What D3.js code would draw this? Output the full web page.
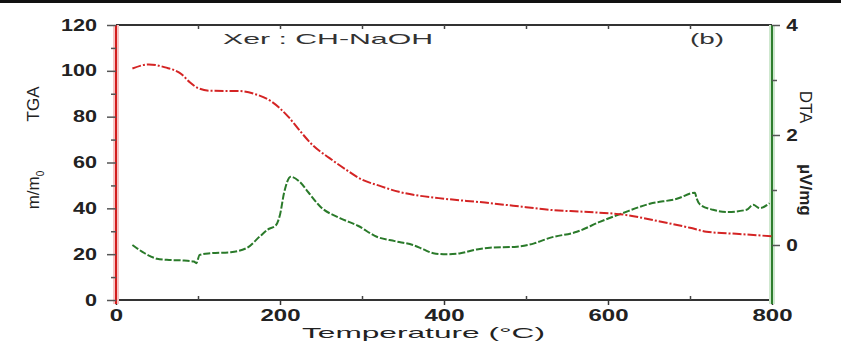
<!DOCTYPE html>
<html>
<head>
<meta charset="utf-8">
<script src="https://cdn.jsdelivr.net/npm/d3@7"></script>
<style>
  body { margin: 0; background: #fff; }
  svg { display: block; font-family: "Liberation Sans", Arial, sans-serif; }
</style>
</head>
<body>
<div id="container"></div>
<script>
/* DATA */
const tgaTemp = [20, 40, 60, 80, 90, 100, 115, 150, 170, 190, 210, 225, 240, 260, 280, 300, 320, 345, 370, 400, 450, 500, 530, 570, 620, 660, 700, 720, 760, 800]
const tgaMass = [101, 102.8, 101.5, 98.5, 95, 92.5, 91.3, 91.2, 89.8, 86.5, 80, 73.5, 67.5, 62, 57, 52.5, 50, 47.2, 45.5, 44.2, 42.5, 40.5, 39.3, 38.5, 37.2, 34.5, 31.5, 29.8, 28.8, 27.8]

const dtaTemp = [20, 35, 50, 62, 80, 95, 98, 102, 115, 140, 160, 175, 185, 195, 200, 205, 213, 224, 235, 249, 273, 295, 318, 340, 362, 375, 387, 403, 420, 440, 456, 489, 510, 529, 562, 590, 618, 651, 684, 706, 708, 712, 728, 745, 769, 777, 785, 797]
const dtaSignal = [0.0, -0.15, -0.25, -0.27, -0.28, -0.3, -0.33, -0.18, -0.15, -0.13, -0.05, 0.15, 0.28, 0.36, 0.55, 0.95, 1.24, 1.15, 0.95, 0.7, 0.49, 0.35, 0.15, 0.07, 0.0, -0.08, -0.15, -0.17, -0.15, -0.08, -0.05, -0.03, 0.03, 0.13, 0.24, 0.42, 0.58, 0.75, 0.84, 0.95, 0.85, 0.74, 0.64, 0.6, 0.64, 0.73, 0.67, 0.76]

const xTicks = [0, 200, 400, 600, 800]
const xMinor = [100, 300, 500, 700]
const tgaTicks = [0, 20, 40, 60, 80, 100, 120]
const tgaMinor = [10, 30, 50, 70, 90, 110]
const dtaTicks = [0, 2, 4]
const dtaMinor = [1, 3]

/* CONSTANTS */
const width = 841, height = 342
const margin = { top: 25, right: 69, bottom: 42, left: 116 }

const svg = d3.select("#container")
  .append("svg")
  .attr("width", width)
  .attr("height", height)

// top border of the picture
svg.append("rect")
  .attr("x", 0).attr("y", 0)
  .attr("width", width).attr("height", 3)
  .attr("fill", "#111")

// SCALES
const xScale = d3.scaleLinear()
  .domain([0, 800])
  .range([margin.left, width - margin.right])

const yTga = d3.scaleLinear()
  .domain([0, 120])
  .range([height - margin.bottom, margin.top])

const yDta = d3.scaleLinear()
  .domain([-1, 4])
  .range([height - margin.bottom, margin.top])

const x0 = xScale(0), x1 = xScale(800)
const yBot = yTga(0), yTop = yTga(120)

// frame top & bottom
svg.append("line")
  .attr("x1", x0).attr("x2", x1).attr("y1", yTop).attr("y2", yTop)
  .attr("stroke", "#333").attr("stroke-width", 2)

svg.append("g")
  .attr("transform", `translate(0, ${yTop})`)
  .call(d3.axisBottom(xScale).tickValues(xTicks.concat(xMinor)).tickSize(4).tickFormat(""))
  .call(g => g.select(".domain").remove())
  .call(g => g.selectAll("line").attr("stroke", "#444").attr("stroke-width", 1.5))

svg.append("line")
  .attr("x1", x0).attr("x2", x1).attr("y1", yBot).attr("y2", yBot)
  .attr("stroke", "#333").attr("stroke-width", 2)

// X axis
svg.append("g")
  .attr("class", "xAxis")
  .attr("transform", `translate(0, ${yBot})`)
  .call(d3.axisBottom(xScale).tickValues(xTicks).tickSize(5))
  .call(g => g.select(".domain").remove())
  .call(g => g.selectAll("line").attr("stroke", "#333").attr("stroke-width", 1.5))
  .call(g => g.selectAll("text")
    .attr("y", 21).attr("dy", 0)
    .attr("transform", "scale(1.5,1)")
    .attr("fill", "#222")
    .attr("font-size", 16)
    .attr("font-weight", "bold"))

svg.append("g")
  .attr("transform", `translate(0, ${yBot})`)
  .call(d3.axisTop(xScale).tickValues(xMinor).tickSize(4).tickFormat(""))
  .call(g => g.select(".domain").remove())
  .call(g => g.selectAll("line").attr("stroke", "#444").attr("stroke-width", 1.5))

svg.append("text")
  .attr("x", 302).attr("y", 338)
  .attr("textLength", 243).attr("lengthAdjust", "spacingAndGlyphs")
  .attr("font-size", 15)
  .attr("fill", "#222")
  .text("Temperature (°C)")

// left TGA axis (red)
svg.append("line")
  .attr("x1", x0).attr("x2", x0).attr("y1", yTop).attr("y2", yBot + 4)
  .attr("stroke", "#f6c4c4").attr("stroke-width", 6)
svg.append("line")
  .attr("x1", x0).attr("x2", x0).attr("y1", yTop).attr("y2", yBot + 4)
  .attr("stroke", "#d21c1c").attr("stroke-width", 2)

svg.append("g")
  .attr("class", "yAxis")
  .attr("transform", `translate(${x0}, 0)`)
  .call(d3.axisLeft(yTga).tickValues(tgaTicks).tickSize(9))
  .call(g => g.select(".domain").remove())
  .call(g => g.selectAll("line").attr("stroke", "#555").attr("stroke-width", 1.5))
  .call(g => g.selectAll("text")
    .attr("x", -14)
    .attr("transform", "scale(1.35,1)")
    .attr("fill", "#222")
    .attr("font-size", 16)
    .attr("font-weight", "bold"))

svg.append("g")
  .attr("transform", `translate(${x0}, 0)`)
  .call(d3.axisLeft(yTga).tickValues(tgaMinor).tickSize(5).tickFormat(""))
  .call(g => g.select(".domain").remove())
  .call(g => g.selectAll("line").attr("stroke", "#555").attr("stroke-width", 1.5))

svg.append("text")
  .attr("transform", "translate(39, 104) rotate(-90)")
  .attr("text-anchor", "middle")
  .attr("font-size", 17)
  .attr("fill", "#222")
  .text("TGA")

const mLabel = svg.append("text")
  .attr("transform", "translate(39, 190) rotate(-90)")
  .attr("text-anchor", "middle")
  .attr("font-size", 17)
  .attr("fill", "#222")
mLabel.append("tspan").text("m/m")
mLabel.append("tspan").attr("font-size", 10).attr("dy", 5).text("0")

// right DTA axis (green)
svg.append("line")
  .attr("x1", x1).attr("x2", x1).attr("y1", yTop).attr("y2", yBot + 4)
  .attr("stroke", "#cfe8cf").attr("stroke-width", 6)
svg.append("line")
  .attr("x1", x1).attr("x2", x1).attr("y1", yTop).attr("y2", yBot + 4)
  .attr("stroke", "#2e7d2e").attr("stroke-width", 2)

svg.append("g")
  .attr("transform", `translate(${x1}, 0)`)
  .call(d3.axisRight(yDta).tickValues(dtaTicks).tickSize(8).tickFormat(d3.format("d")))
  .call(g => g.select(".domain").remove())
  .call(g => g.selectAll("line").attr("stroke", "#555").attr("stroke-width", 1.5))
  .call(g => g.selectAll("text")
    .attr("x", 11)
    .attr("transform", "scale(1.3,1)")
    .attr("fill", "#222")
    .attr("font-size", 16)
    .attr("font-weight", "bold"))

svg.append("g")
  .attr("transform", `translate(${x1}, 0)`)
  .call(d3.axisRight(yDta).tickValues(dtaMinor).tickSize(5).tickFormat(""))
  .call(g => g.select(".domain").remove())
  .call(g => g.selectAll("line").attr("stroke", "#555").attr("stroke-width", 1.5))

svg.append("text")
  .attr("transform", "translate(800, 107) rotate(90)")
  .attr("text-anchor", "middle")
  .attr("font-size", 17)
  .attr("fill", "#222")
  .text("DTA")

svg.append("text")
  .attr("transform", "translate(800, 190) rotate(90)")
  .attr("text-anchor", "middle")
  .attr("font-size", 17)
  .attr("font-weight", "bold")
  .attr("fill", "#222")
  .text("µV/mg")

// annotations
svg.append("text")
  .attr("x", 223).attr("y", 44)
  .attr("textLength", 210).attr("lengthAdjust", "spacingAndGlyphs")
  .attr("font-size", 15)
  .attr("fill", "#333")
  .text("Xer : CH-NaOH")

svg.append("text")
  .attr("x", 690).attr("y", 44)
  .attr("textLength", 34).attr("lengthAdjust", "spacingAndGlyphs")
  .attr("font-size", 15)
  .attr("fill", "#333")
  .text("(b)")

// LINES
const tgaData = tgaTemp.map((t, i) => ({ t, v: tgaMass[i] }))
const dtaData = dtaTemp.map((t, i) => ({ t, v: dtaSignal[i] }))

const tgaLine = d3.line()
  .x(d => xScale(d.t))
  .y(d => yTga(d.v))
  .curve(d3.curveMonotoneX)

const dtaLine = d3.line()
  .x(d => xScale(d.t))
  .y(d => yDta(d.v))
  .curve(d3.curveMonotoneX)

svg.append("path")
  .attr("class", "dta")
  .attr("fill", "none")
  .attr("stroke", "#2a7a2a")
  .attr("stroke-width", 2)
  .attr("stroke-dasharray", "7,2")
  .attr("d", dtaLine(dtaData))

svg.append("path")
  .attr("class", "tga")
  .attr("fill", "none")
  .attr("stroke", "#d42424")
  .attr("stroke-width", 2)
  .attr("stroke-dasharray", "9,2,2,2")
  .attr("d", tgaLine(tgaData))
</script>
</body>
</html>
